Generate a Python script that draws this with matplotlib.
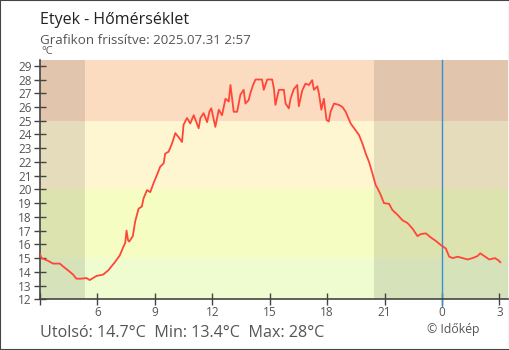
import matplotlib
matplotlib.use("Agg")
import matplotlib.pyplot as plt
from matplotlib.patches import Rectangle

plt.rcParams['font.family'] = ['Open Sans', 'DejaVu Sans']

# hours since midnight of the first day (24 = midnight)
hours = [3.00, 3.08, 3.42, 3.68, 4.03, 4.20, 4.47, 4.73, 4.90, 5.16, 5.42, 5.60,
         5.95, 6.30, 6.56, 6.91, 7.17, 7.35, 7.45, 7.52, 7.60, 7.66, 7.85, 7.97,
         8.15, 8.32, 8.41, 8.59, 8.76, 8.93, 9.11, 9.28, 9.46, 9.54, 9.72, 9.90,
         10.07, 10.24, 10.42, 10.50, 10.68, 10.85, 11.03, 11.29, 11.38, 11.55, 11.73, 11.86,
         11.95, 12.16, 12.34, 12.51, 12.69, 12.86, 12.95, 13.12, 13.30, 13.47, 13.64, 13.73,
         13.90, 13.99, 14.13, 14.26, 14.60, 14.69, 14.87, 15.13, 15.22, 15.30, 15.48, 15.74,
         15.83, 16.00, 16.09, 16.26, 16.44, 16.52, 16.70, 16.87, 17.05, 17.22, 17.31, 17.49,
         17.57, 17.70, 17.83, 17.97, 18.09, 18.18, 18.36, 18.62, 18.80, 18.97, 19.23, 19.49,
         19.67, 19.84, 20.02, 20.19, 20.37, 20.54, 20.63, 20.80, 20.97, 21.24, 21.41, 21.68,
         21.94, 22.20, 22.46, 22.72, 22.90, 23.16, 23.42, 23.68, 23.94, 24.20, 24.38, 24.56,
         24.82, 25.08, 25.34, 25.60, 25.86, 26.00, 26.21, 26.47, 26.77, 26.94, 27.05]
temps = [15.3, 15.0, 14.8, 14.6, 14.6, 14.4, 14.1, 13.8, 13.5, 13.5, 13.55, 13.4,
         13.7, 13.8, 14.1, 14.7, 15.2, 15.8, 16.1, 17.0, 16.3, 16.2, 16.6, 17.65,
         18.6, 18.75, 19.35, 19.95, 19.8, 20.45, 21.05, 21.65, 21.9, 22.6, 22.75, 23.35,
         24.1, 23.8, 23.45, 24.7, 25.2, 24.8, 25.4, 24.45, 25.2, 25.55, 24.9, 25.7,
         25.9, 24.55, 25.8, 25.4, 26.6, 26.4, 27.6, 25.65, 25.65, 26.9, 27.25, 26.25,
         26.5, 27.0, 27.6, 28.0, 28.0, 27.25, 28.0, 28.0, 27.35, 26.15, 27.25, 27.25,
         26.25, 25.9, 26.6, 27.3, 27.6, 26.05, 27.2, 27.7, 27.6, 27.95, 27.25, 27.5,
         27.0, 25.8, 26.6, 25.05, 24.95, 25.65, 26.25, 26.15, 26.0, 25.65, 24.8, 24.3,
         23.95, 23.35, 22.6, 22.0, 21.15, 20.3, 20.1, 19.6, 19.0, 18.95, 18.5, 18.15,
         17.75, 17.55, 17.15, 16.6, 16.75, 16.8, 16.5, 16.25, 15.95, 15.7, 15.1, 15.0,
         15.1, 15.0, 14.9, 15.0, 15.15, 15.35, 15.15, 14.9, 15.0, 14.85, 14.7]

x_ticks = [3, 6, 9, 12, 15, 18, 21, 24, 27]
x_labels = ['', '6', '9', '12', '15', '18', '21', '0', '3']
y_ticks = list(range(12, 30))

# temperature bands and night periods (sunset / sunrise)
bands = [(-50, 15, '#effccf'), (15, 20, '#f6fdc2'), (20, 25, '#fef6d0'), (25, 50, '#fbdcc0')]
nights = [(0, 5.37), (20.43, 30)]

x_min, x_max = 3, 27.45
y_min, y_max = 12, 29.42

fig = plt.figure(figsize=(5.1, 3.5), dpi=100)
ax = fig.add_axes([40 / 510, (350 - 299.3) / 350, 468 / 510, (299.3 - 60) / 350])

for lo, hi, col in bands:
    ax.axhspan(lo, hi, color=col, lw=0, zorder=0)
for a, b in nights:
    ax.axvspan(a, b, color='black', alpha=0.1, lw=0, zorder=1)

ax.axvline(24, color='#3d8fcc', lw=1.0, zorder=2, ymin=-0.03, clip_on=False)
ax.plot(hours, temps, color='#ff4638', lw=1.3, zorder=3)

ax.set_xlim(x_min, x_max)
ax.set_ylim(y_min, y_max)
ax.set_xticks(x_ticks)
ax.set_xticklabels(x_labels)
ax.set_yticks(y_ticks)

for s in ['top', 'right']:
    ax.spines[s].set_visible(False)
for s in ['left', 'bottom']:
    ax.spines[s].set_color('#444444')
    ax.spines[s].set_linewidth(1.2)
ax.tick_params(axis='both', direction='inout', length=8, width=1.0, color='#444444',
               labelcolor='#555555', labelsize=8.5, pad=2)
ax.tick_params(axis='x', pad=1)

fig.text(40 / 510, 1 - 20 / 350, 'Etyek - Hőmérséklet', fontsize=11.5, color='#222222', va='center')
fig.text(40 / 510, 1 - 40 / 350, 'Grafikon frissítve: 2025.07.31 2:57', fontsize=9.6,
         color='#555555', va='center')
fig.text(47 / 510, 1 - 52 / 350, '°C', fontsize=8, color='#555555', va='center', ha='center')
fig.text(40 / 510, 1 - 333 / 350, 'Utolsó: 14.7°C  Min: 13.4°C  Max: 28°C', fontsize=11.6,
         color='#555555', va='center')
fig.text(453 / 510, 1 - 330 / 350, '© Időkép', fontsize=8.8, color='#555555', va='center', ha='center')

fig.patches.append(Rectangle((0, 0), 1, 1, transform=fig.transFigure, fill=False,
                             edgecolor='#444444', lw=1.5))

fig.savefig('out.png', dpi=100)
